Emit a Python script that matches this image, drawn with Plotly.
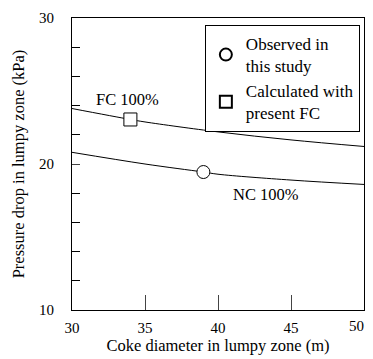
import plotly.graph_objects as go

fc_x = [30, 34, 35, 40, 45, 50]
fc_y = [23.8, 23.05, 22.88, 22.2, 21.65, 21.2]
nc_x = [30, 35, 39, 40, 45, 50]
nc_y = [20.8, 20.0, 19.45, 19.3, 18.9, 18.6]
obs_x = [39]
obs_y = [19.45]
calc_x = [34]
calc_y = [23.05]
x_ticks = [30, 35, 40, 45, 50]
y_ticks = [10, 20, 30]

font = dict(family="Liberation Serif", size=16.5, color="black")
tfont = dict(family="Liberation Serif", size=15, color="black")

fig = go.Figure()
fig.add_trace(go.Scatter(x=fc_x, y=fc_y, mode="lines", line=dict(color="black", width=1, shape="spline"), showlegend=False))
fig.add_trace(go.Scatter(x=nc_x, y=nc_y, mode="lines", line=dict(color="black", width=1, shape="spline"), showlegend=False))
fig.add_trace(go.Scatter(x=obs_x, y=obs_y, mode="markers", name="Observed in<br>this study",
                         marker=dict(symbol="circle", size=13, color="white", line=dict(color="black", width=1))))
fig.add_trace(go.Scatter(x=calc_x, y=calc_y, mode="markers", name="Calculated with<br>present FC",
                         marker=dict(symbol="square", size=13, color="white", line=dict(color="black", width=1))))

fig.add_annotation(x=33.8, y=24.45, text="FC 100%", showarrow=False, font=font, xanchor="center", yanchor="middle")
fig.add_annotation(x=43.3, y=17.9, text="NC 100%", showarrow=False, font=font, xanchor="center", yanchor="middle")
# last x tick label placed inside the visible page edge
fig.add_annotation(x=x_ticks[-1], y=0, yref="paper", text=str(x_ticks[-1]), showarrow=False, font=tfont,
                   xanchor="right", yanchor="top", xshift=2, yshift=-6)

fig.update_layout(
    width=373, height=359,
    margin=dict(l=64, r=17, t=10, b=57, autoexpand=False),
    paper_bgcolor="white", plot_bgcolor="white",
    font=font,
    legend=dict(x=0.455, y=0.976, xanchor="left", yanchor="top", bgcolor="white",
                bordercolor="black", borderwidth=1, font=dict(family="Liberation Serif", size=17, color="black"),
                tracegroupgap=6, itemsizing="constant"),
)
fig.update_xaxes(range=[30, 50], tickvals=x_ticks, ticktext=[str(v) for v in x_ticks[:-1]] + [""],
                 ticks="inside", ticklen=15,
                 showline=True, mirror=True, linecolor="black", linewidth=1, showgrid=False,
                 zeroline=False, title=dict(text="Coke diameter in lumpy zone (m)", font=font, standoff=3),
                 tickfont=tfont, ticklabelstandoff=4, automargin=False)
fig.update_yaxes(range=[10, 30], tickvals=y_ticks, ticks="inside", ticklen=8,
                 minor=dict(tickvals=[12, 14, 16, 18, 22, 24, 26, 28], ticks="inside", ticklen=8, tickcolor="black"),
                 showline=True, mirror=True, linecolor="black", linewidth=1, showgrid=False,
                 zeroline=False, title=dict(text="Pressure drop in lumpy zone (kPa)", font=font, standoff=10),
                 tickfont=tfont, ticklabelstandoff=14, automargin=False)

fig.write_html("out.html")
